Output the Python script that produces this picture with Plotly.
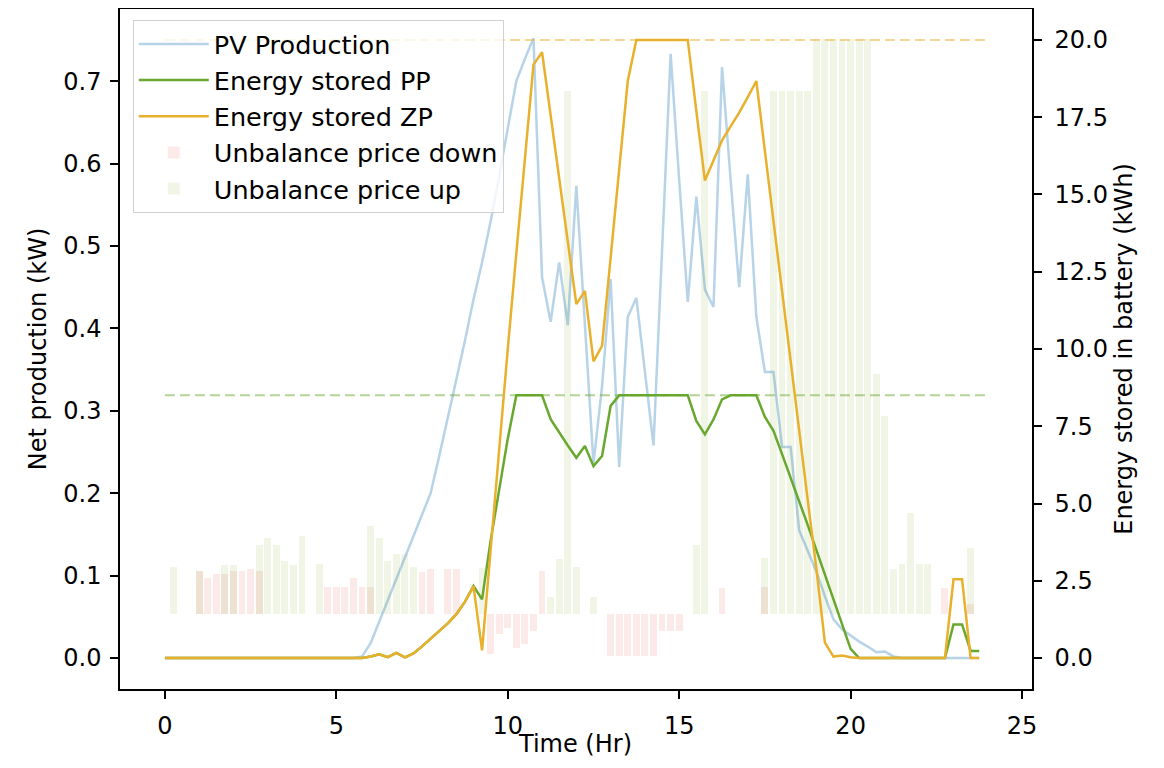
import plotly.graph_objects as go

# ---------------- data (15-minute resolution) ----------------
time_hr = [i * 0.25 for i in range(96)]

pv_production = [0]*23 + [
    0.002, 0.018, 0.044, 0.070, 0.095, 0.120, 0.147, 0.173, 0.200,   # 5.75 - 7.75
    0.245, 0.290, 0.338, 0.385, 0.435, 0.480, 0.530, 0.585,          # 8.0 - 9.75
    0.645, 0.700, 0.727, 0.752, 0.462, 0.408, 0.480, 0.404,          # 10.0 - 11.75
    0.573, 0.400, 0.236, 0.330, 0.460, 0.232, 0.414, 0.437,          # 12.0 - 13.75
    0.350, 0.258, 0.495, 0.733, 0.580, 0.432, 0.560, 0.447,          # 14.0 - 15.75
    0.426, 0.717, 0.580, 0.450, 0.587, 0.414, 0.347, 0.347,          # 16.0 - 17.75
    0.256, 0.256, 0.155, 0.130, 0.105, 0.075, 0.047, 0.035,          # 18.0 - 19.75
    0.027, 0.020, 0.014, 0.007, 0.008, 0.002,                        # 20.0 - 21.25
] + [0]*10

energy_zp = [0]*24 + [
    0.05, 0.12, 0.03, 0.17, 0.02, 0.15, 0.38, 0.62,                  # 6.0 - 7.75
    0.85, 1.12, 1.42, 1.82, 2.33, 0.25, 3.5, 6.8,                    # 8.0 - 9.75
    10.0, 13.1, 16.1, 19.2, 19.6, 17.55, 15.5, 13.5,                 # 10.0 - 11.75
    11.45, 11.88, 9.6, 10.1, 12.9, 15.8, 18.67, 20.0,                # 12.0 - 13.75
    20.0, 20.0, 20.0, 20.0, 20.0, 20.0, 17.7, 15.45,                 # 14.0 - 15.75
    16.1, 16.75, 17.2, 17.65, 18.15, 18.67, 16.4, 14.1,              # 16.0 - 17.75
    11.8, 9.5, 7.3, 5.1, 2.9, 0.5, 0.05, 0.08,                       # 18.0 - 19.75
    0.03,                                                            # 20.0
] + [0]*11 + [2.55, 2.55, 0.0, 0.0]                                  # 20.25 - 23.75

energy_pp = [0]*24 + [
    0.05, 0.12, 0.03, 0.17, 0.02, 0.15, 0.38, 0.62,                  # 6.0 - 7.75
    0.85, 1.12, 1.42, 1.82, 2.33, 1.9, 3.8, 5.5,                     # 8.0 - 9.75
    7.1, 8.5, 8.5, 8.5, 8.5, 7.73, 7.29, 6.88,                       # 10.0 - 11.75
    6.48, 6.86, 6.21, 6.54, 8.16, 8.5, 8.5, 8.5,                     # 12.0 - 13.75
    8.5, 8.5, 8.5, 8.5, 8.5, 8.5, 7.67, 7.24,                        # 14.0 - 15.75
    7.72, 8.37, 8.5, 8.5, 8.5, 8.5, 7.8, 7.35,                       # 16.0 - 17.75
    6.6, 5.85, 5.1, 4.3, 3.5, 2.7, 1.9, 1.1,                         # 18.0 - 19.75
    0.3,                                                             # 20.0
] + [0]*11 + [1.09, 1.09, 0.23, 0.23]                                # 20.25 - 23.75

zp_capacity = 20.0
pp_capacity = 8.5
capacity_x = [0, 24]

price_up = [0]*96
for idx, val in {1: 33, 4: 30, 7: 34, 8: 34, 11: 48, 12: 53, 13: 48, 14: 37,
                 15: 34, 16: 54, 18: 35, 24: 61, 25: 53, 26: 37, 27: 42, 28: 42,
                 29: 33, 37: 32, 45: 12, 46: 38, 47: 364, 48: 33, 50: 12,
                 62: 48, 63: 364, 70: 39, 71: 364, 72: 364, 73: 364, 74: 364,
                 75: 364, 76: 400, 77: 400, 78: 400, 79: 400, 80: 400, 81: 400,
                 82: 400, 83: 167, 84: 138, 85: 31, 86: 35, 87: 70, 88: 35,
                 89: 35, 94: 46}.items():
    price_up[idx] = val

price_down = [0]*96
for idx, val in {4: 30, 5: 25, 6: 28, 7: 28, 8: 30, 9: 30, 10: 31, 11: 30,
                 19: 19, 20: 19, 21: 19, 22: 25, 23: 19, 24: 19, 30: 29, 31: 31,
                 33: 31, 34: 31, 38: -28, 39: -14, 40: -10, 41: -24, 42: -21,
                 43: -12, 44: 30, 52: -29, 53: -29, 54: -29, 55: -29, 56: -29,
                 57: -29, 58: -12, 59: -12, 60: -12, 65: 18, 70: 19, 91: 18,
                 94: 7}.items():
    price_down[idx] = val

x_title = "Time (Hr)"

# ---------------- styling ----------------
FONT = "DejaVu Sans"
FS = 24
C_PV = "rgba(31,119,180,0.32)"
C_PP = "#69a82e"
C_ZP = "#e9b02c"
C_UP = "rgba(150,175,60,0.13)"
C_DOWN = "rgba(220,80,60,0.12)"

fig = go.Figure()

fig.add_trace(go.Bar(x=time_hr, y=price_down, width=0.2, marker=dict(color=C_DOWN, line=dict(width=0)),
                     name="Unbalance price down", yaxis="y", legendrank=4, legendgroup="d"))
fig.add_trace(go.Bar(x=time_hr, y=price_up, width=0.2, marker=dict(color=C_UP, line=dict(width=0)),
                     name="Unbalance price up", yaxis="y", legendrank=5, legendgroup="u"))

fig.add_trace(go.Scatter(x=time_hr, y=pv_production, mode="lines", line=dict(color=C_PV, width=2.5),
                         name="PV Production", yaxis="y2", legendrank=1, legendgroup="pv"))

fig.add_trace(go.Scatter(x=capacity_x, y=[zp_capacity]*2, mode="lines",
                         line=dict(color="rgba(233,176,44,0.5)", width=2, dash="10px,5px"),
                         showlegend=False, yaxis="y3", hoverinfo="skip"))
fig.add_trace(go.Scatter(x=capacity_x, y=[pp_capacity]*2, mode="lines",
                         line=dict(color="rgba(105,168,46,0.5)", width=2, dash="10px,5px"),
                         showlegend=False, yaxis="y3", hoverinfo="skip"))
fig.add_trace(go.Scatter(x=time_hr, y=energy_pp, mode="lines", line=dict(color=C_PP, width=2.5),
                         name="Energy stored PP", yaxis="y3", legendrank=2, legendgroup="pp"))
fig.add_trace(go.Scatter(x=time_hr, y=energy_zp, mode="lines", line=dict(color=C_ZP, width=2.5),
                         name="Energy stored ZP", yaxis="y3", legendrank=3, legendgroup="zp"))

axis_common = dict(showline=True, linecolor="black", linewidth=1.5, ticks="outside",
                   ticklen=8, tickwidth=1.5, tickcolor="black", showgrid=False, zeroline=False,
                   tickfont=dict(family=FONT, size=FS, color="black"))

fig.update_layout(
    width=1148, height=752,
    margin=dict(l=112, r=124, t=1, b=71),
    paper_bgcolor="white", plot_bgcolor="white",
    barmode="overlay", bargap=0,
    font=dict(family=FONT, size=FS, color="black"),
    xaxis=dict(range=[-1.31, 25.29], tickvals=[0, 5, 10, 15, 20, 25], mirror=True,
               ticklabelstandoff=6, automargin=False,
               **axis_common),
    yaxis=dict(range=[-52.2, 420.9], visible=False, showgrid=False, zeroline=False),
    yaxis2=dict(overlaying="y", side="left", anchor="x", range=[-0.0375, 0.7875],
                tickvals=[0, 0.1, 0.2, 0.3, 0.4, 0.5, 0.6, 0.7], tickformat=".1f",
                ticklabelstandoff=4, automargin=False,
                title=dict(text="Net production (kW)", font=dict(family=FONT, size=FS), standoff=10),
                **axis_common),
    yaxis3=dict(overlaying="y", side="right", anchor="x", range=[-1.0, 21.0],
                tickvals=[0, 2.5, 5, 7.5, 10, 12.5, 15, 17.5, 20], tickformat=".1f",
                ticklabelstandoff=8, automargin=False,
                title=dict(text="Energy stored in battery (kWh)", font=dict(family=FONT, size=FS), standoff=8),
                **axis_common),
    legend=dict(x=0.014, y=0.984, xanchor="left", yanchor="top",
                bgcolor="rgba(255,255,255,0.8)", bordercolor="#d0d0d0", borderwidth=1,
                font=dict(family=FONT, size=25.5, color="black"), tracegroupgap=10,
                itemwidth=70, traceorder="normal"),
    showlegend=True,
    annotations=[dict(text=x_title, xref="paper", yref="paper", x=0.499, y=-0.081,
                      xanchor="center", yanchor="middle", showarrow=False,
                      font=dict(family=FONT, size=FS, color="black"))],
)

fig.write_html("out.html")
